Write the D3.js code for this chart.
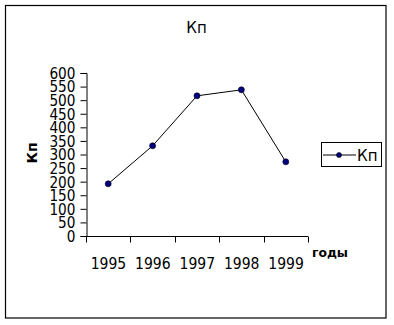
<!DOCTYPE html>
<html><head><meta charset="utf-8">
<script src="https://cdn.jsdelivr.net/npm/d3@7"></script>
<style>body{margin:0;background:#fff}svg{display:block}</style>
</head><body>
<svg id="c" width="394" height="325"></svg>
<script>
const categories = ["1995","1996","1997","1998","1999"];
const values = [192, 332, 516, 538, 273];
const yTicks = [0,50,100,150,200,250,300,350,400,450,500,550,600];
const seriesName = "Кп";
const titleText = "Кп";
const xTitle = "годы";
const yTitle = "Кп";

const svg = d3.select("#c");
svg.append("rect").attr("x",5.5).attr("y",5.5).attr("width",380.5).attr("height",312.5)
  .attr("fill","#fff").attr("stroke","#000").attr("stroke-width",1.2);

const x0 = 86, x1 = 308, yTop = 73, yBot = 236;
const x = d3.scaleBand().domain(categories).range([x0,x1]);
const y = d3.scaleLinear().domain([0,600]).range([yBot,yTop]);

svg.append("text").attr("x",196.5).attr("y",33).attr("text-anchor","middle")
  .attr("font-family","DejaVu Sans").attr("font-size",15).text(titleText);

// y axis
const ya = svg.append("g").attr("transform",`translate(${x0+0.5},0)`)
  .call(d3.axisLeft(y).tickValues(yTicks).tickSize(6).tickPadding(5).tickFormat(d3.format("d")));
ya.select(".domain").attr("stroke","#000");
ya.selectAll(".tick line").attr("stroke","#000");
ya.selectAll("text").attr("font-family","DejaVu Sans").attr("font-size",15)
  .attr("fill","#000").attr("dy","0.36em")
  .attr("textLength",d=>String(d).length*8.7).attr("lengthAdjust","spacingAndGlyphs");

// x axis with boundary ticks
const xa = svg.append("g").attr("transform",`translate(0,${yBot+0.5})`);
xa.append("line").attr("x1",x0).attr("x2",x1).attr("stroke","#000");
const bounds = categories.map(c=>x(c)).concat([x1]);
xa.selectAll("line.t").data(bounds).enter().append("line").attr("class","t")
  .attr("x1",d=>Math.round(d)+0.5).attr("x2",d=>Math.round(d)+0.5).attr("y1",0).attr("y2",6).attr("stroke","#000");
xa.selectAll("text").data(categories).enter().append("text")
  .attr("x",d=>x(d)+x.bandwidth()/2 - 17.5).attr("y",32)
  .attr("font-family","DejaVu Sans").attr("font-size",16)
  .attr("textLength",35.5).attr("lengthAdjust","spacingAndGlyphs")
  .text(d=>d);

svg.append("text").attr("x",312).attr("y",257).attr("font-family","DejaVu Sans").attr("font-weight","bold")
  .attr("font-size",12).attr("textLength",36).attr("lengthAdjust","spacingAndGlyphs").text(xTitle);
svg.append("text").attr("transform","translate(37,153) rotate(-90)").attr("text-anchor","middle")
  .attr("font-family","DejaVu Sans").attr("font-weight","bold").attr("font-size",14).text(yTitle);

// line
const line = d3.line().x((d,i)=>x(categories[i])+x.bandwidth()/2).y(d=>y(d));
svg.append("path").attr("d",line(values)).attr("fill","none").attr("stroke","#000").attr("stroke-width",1);
svg.selectAll("circle.m").data(values).enter().append("circle").attr("class","m")
  .attr("cx",(d,i)=>x(categories[i])+x.bandwidth()/2).attr("cy",d=>y(d)).attr("r",3)
  .attr("fill","#000080").attr("stroke","#000").attr("stroke-width",0.6);

// legend
const lg = svg.append("g");
lg.append("rect").attr("x",321.5).attr("y",142.5).attr("width",60).attr("height",24)
  .attr("fill","#fff").attr("stroke","#000");
lg.append("line").attr("x1",323).attr("x2",356).attr("y1",155).attr("y2",155).attr("stroke","#000");
lg.append("circle").attr("cx",339).attr("cy",155).attr("r",2.5).attr("fill","#000080").attr("stroke","#000").attr("stroke-width",0.6);
lg.append("text").attr("x",357).attr("y",161).attr("font-family","DejaVu Sans").attr("font-size",15).text(seriesName);
</script>
</body></html>
